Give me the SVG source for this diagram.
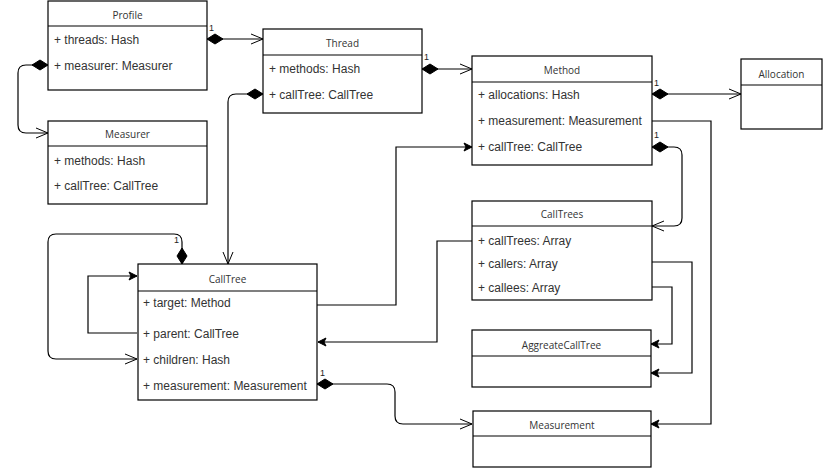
<svg xmlns="http://www.w3.org/2000/svg" width="825" height="468" viewBox="0 0 825 468">
<style>
.box{fill:#fff;stroke:#000;stroke-width:1.2}
.div{stroke:#000;stroke-width:1.2}
.title{font-family:"Open Sans","DejaVu Sans",sans-serif;font-size:10px;fill:#333;text-anchor:middle}
.attr{font-family:"Liberation Sans",Arial,sans-serif;font-size:12px;fill:#333}
.mult{font-family:"Liberation Sans",Arial,sans-serif;font-size:9px;fill:#222}
.c{fill:none;stroke:#000;stroke-width:1.2}
.comp{marker-start:url(#diamond)}
.open{marker-end:url(#openArrow)}
.fill{marker-end:url(#blockArrow)}
</style>
<defs>
<marker id="diamond" markerUnits="userSpaceOnUse" markerWidth="18" markerHeight="12" refX="0" refY="6" orient="auto" viewBox="0 0 18 12" overflow="visible">
<path d="M0,6 L8,1 L16,6 L8,11 Z" fill="#000" stroke="#000" stroke-width="1"/>
</marker>
<marker id="openArrow" markerUnits="userSpaceOnUse" markerWidth="14" markerHeight="12" refX="12" refY="6" orient="auto" viewBox="0 0 14 12" overflow="visible">
<path d="M0,1 L12,6 L0,11" fill="none" stroke="#000" stroke-width="1"/>
</marker>
<marker id="blockArrow" markerUnits="userSpaceOnUse" markerWidth="10" markerHeight="10" refX="8" refY="5" orient="auto" viewBox="0 0 10 10" overflow="visible">
<path d="M0,1 L8,5 L0,9 L2,5 Z" fill="#000" stroke="#000" stroke-width="1"/>
</marker>
</defs>

<g id="connectors">
<path class="c comp open" d="M207,39 L263,39"/>
<path class="c comp open" d="M48,65 L26,65 Q18,65 18,73 L18,125 Q18,133 26,133 L48,133"/>
<path class="c comp open" d="M422,69 L472,69"/>
<path class="c comp open" d="M263,94 L236,94 Q228,94 228,102 L228,264"/>
<path class="c comp open" d="M652,94 L741,94"/>
<path class="c fill" d="M652,121 L711,121 L711,424 L651,424"/>
<path class="c comp open" d="M652,147 L674,147 Q682,147 682,155 L682,218 Q682,226 674,226 L652,226"/>
<path class="c fill" d="M317,305 L396,305 L396,147 L472,147"/>
<path class="c fill" d="M472,241 L437,241 L437,342 L318,342"/>
<path class="c fill" d="M652,262 L692,262 L692,373 L651,373"/>
<path class="c fill" d="M652,287 L672,287 L672,344 L651,344"/>
<path class="c comp open" d="M317,384 L387,384 Q395,384 395,392 L395,416 Q395,424 403,424 L472,424"/>
<path class="c fill" d="M137,333 L88,333 L88,276 L137,276"/>
<path class="c comp open" d="M182,264 L182,242 Q182,234 174,234 L56,234 Q48,234 48,242 L48,351 Q48,359 56,359 L137,359"/>
<text class="mult" x="209" y="31">1</text>
<text class="mult" x="48.5" y="64">1</text>
<text class="mult" x="424" y="60">1</text>
<text class="mult" x="263.5" y="93">1</text>
<text class="mult" x="654" y="86">1</text>
<text class="mult" x="654" y="138">1</text>
<text class="mult" x="320" y="376">1</text>
<text class="mult" x="174" y="243">1</text>
</g>

<g id="Profile">
<rect class="box" x="48" y="1" width="159" height="89"/>
<line class="div" x1="48" y1="26" x2="207" y2="26"/>
<text class="title" x="127.5" y="19">Profile</text>
<text class="attr" x="54" y="44">+ threads: Hash</text>
<text class="attr" x="54" y="70">+ measurer: Measurer</text>
</g>

<g id="Thread">
<rect class="box" x="263" y="29" width="159" height="84"/>
<line class="div" x1="263" y1="55" x2="422" y2="55"/>
<text class="title" x="342.5" y="47">Thread</text>
<text class="attr" x="269" y="73">+ methods: Hash</text>
<text class="attr" x="269" y="99">+ callTree: CallTree</text>
</g>

<g id="Method">
<rect class="box" x="472" y="56" width="180" height="109"/>
<line class="div" x1="472" y1="82" x2="652" y2="82"/>
<text class="title" x="562" y="74">Method</text>
<text class="attr" x="478" y="99">+ allocations: Hash</text>
<text class="attr" x="478" y="125">+ measurement: Measurement</text>
<text class="attr" x="478" y="151">+ callTree: CallTree</text>
</g>

<g id="Allocation">
<rect class="box" x="741" y="59" width="81" height="70"/>
<line class="div" x1="741" y1="85" x2="822" y2="85"/>
<text class="title" x="781.5" y="78">Allocation</text>
</g>

<g id="Measurer">
<rect class="box" x="48" y="121" width="159" height="83"/>
<line class="div" x1="48" y1="146" x2="207" y2="146"/>
<text class="title" x="127.5" y="138">Measurer</text>
<text class="attr" x="54" y="165">+ methods: Hash</text>
<text class="attr" x="54" y="190">+ callTree: CallTree</text>
</g>

<g id="CallTree">
<rect class="box" x="138" y="264" width="179" height="136"/>
<line class="div" x1="138" y1="291" x2="317" y2="291"/>
<text class="title" x="227.5" y="283">CallTree</text>
<text class="attr" x="143" y="307">+ target: Method</text>
<text class="attr" x="143" y="338">+ parent: CallTree</text>
<text class="attr" x="143" y="364">+ children: Hash</text>
<text class="attr" x="143" y="390">+ measurement: Measurement</text>
</g>

<g id="CallTrees">
<rect class="box" x="472" y="201" width="180" height="99"/>
<line class="div" x1="472" y1="226" x2="652" y2="226"/>
<text class="title" x="562" y="218">CallTrees</text>
<text class="attr" x="478" y="245">+ callTrees: Array</text>
<text class="attr" x="478" y="268">+ callers: Array</text>
<text class="attr" x="478" y="292">+ callees: Array</text>
</g>

<g id="AggreateCallTree">
<rect class="box" x="472" y="330" width="179" height="57"/>
<line class="div" x1="472" y1="356" x2="651" y2="356"/>
<text class="title" x="561.5" y="349">AggreateCallTree</text>
</g>

<g id="Measurement">
<rect class="box" x="473" y="411" width="178" height="56"/>
<line class="div" x1="473" y1="436" x2="651" y2="436"/>
<text class="title" x="562" y="429">Measurement</text>
</g>
</svg>
